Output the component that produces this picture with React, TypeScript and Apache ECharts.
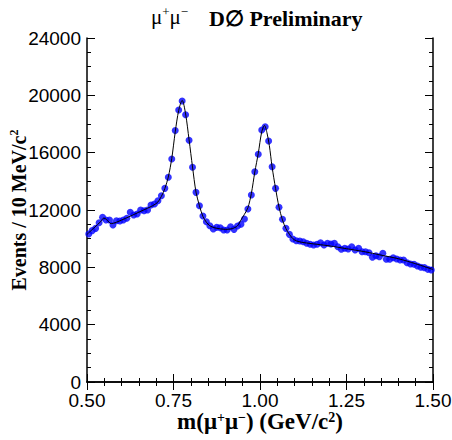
import React, { useEffect, useRef } from "react";
import * as echarts from "echarts";

// Histogram: m(mu+mu-) in 10 MeV bins from 0.50 to 1.50 GeV
const binStart = 0.5;
const binWidth = 0.01;
const eventCounts = [
  10330, 10560, 10720, 11110, 11490, 11300, 11300, 10950, 11250, 11230,
  11300, 11420, 11840, 11650, 11720, 12000, 11950, 12000, 12350, 12420,
  12650, 13000, 13510, 14280, 15560, 17540, 18980, 19600, 18650, 16860,
  14980, 13230, 12300, 11580, 11180, 10900, 10670, 10790, 10760, 10600,
  10600, 10830, 10650, 10880, 11000, 11370, 12070, 13050, 14670, 15890,
  17580, 17810, 16810, 15020, 13510, 12190, 11350, 10720, 10300, 9980,
  9860, 9840, 9790, 9680, 9610, 9560, 9610, 9720, 9560, 9680,
  9630, 9680, 9440, 9260, 9330, 9280, 9440, 9210, 9330, 9090,
  9090, 9020, 8700, 8810, 8740, 8980, 8560, 8560, 8670, 8580,
  8510, 8510, 8320, 8230, 8210, 8090, 8000, 7980, 7860, 7810,
];

// Fit curve
const fitMass = [
  0.5, 0.52, 0.54, 0.548, 0.556, 0.57, 0.6, 0.65, 0.7, 0.715,
  0.725, 0.735, 0.745, 0.755, 0.765, 0.775, 0.785, 0.795, 0.805, 0.815,
  0.825, 0.835, 0.845, 0.855, 0.87, 0.9, 0.92, 0.935, 0.945, 0.955,
  0.965, 0.975, 0.985, 0.995, 1.005, 1.013, 1.02, 1.027, 1.035, 1.045,
  1.055, 1.065, 1.075, 1.085, 1.095, 1.105, 1.12, 1.15, 1.2, 1.25,
  1.3, 1.35, 1.4, 1.45, 1.5,
];
const fitEvents = [
  10300, 10750, 11200, 11430, 11350, 11050, 11300, 11850, 12450, 12950,
  13500, 14300, 15600, 17450, 18950, 19650, 18700, 16900, 15000, 13250,
  12300, 11550, 11150, 10900, 10750, 10650, 10700, 10900, 11300, 11700,
  12150, 13150, 14650, 15950, 17450, 17900, 17400, 16500, 15000, 13500,
  12200, 11300, 10700, 10300, 10000, 9850, 9750, 9650, 9500, 9300,
  9100, 8850, 8600, 8250, 7850,
];

const xTicks = { min: 0.5, max: 1.5, interval: 0.25 };
const yTicks = { min: 0, max: 24000, interval: 4000 };

export default function App() {
  const ref = useRef<HTMLDivElement>(null);
  useEffect(() => {
    if (!ref.current) return;
    const chart = echarts.init(ref.current, undefined, { renderer: "svg" });
    const pts = eventCounts.map((v, i) => [binStart + binWidth * (i + 0.5), v]);
    const fit = fitMass.map((m, i) => [m, fitEvents[i]]);
    const labelFont = "'Liberation Sans', Arial, sans-serif";
    const serif = "'Liberation Serif', 'Times New Roman', serif";
    const axisLine = { show: true, lineStyle: { color: "#000", width: 1.5 } };
    const tick = { show: true, inside: true, length: 8, lineStyle: { color: "#000", width: 1 } };
    const minor = (n: number) => ({
      show: true,
      splitNumber: n,
      length: 4,
      lineStyle: { color: "#000", width: 1 },
    });
    const option: any = {
      animation: false,
      grid: { left: 87, right: 19, top: 38, bottom: 58, containLabel: false, outerBoundsMode: "none" },
      graphic: [
        {
          type: "text",
          left: 151,
          top: 5,
          style: {
            text: "{a|μ}{s|+}{a|μ}{s|−}",
            rich: {
              a: { fontFamily: serif, fontSize: 21, fill: "#000", lineHeight: 24 },
              s: { fontFamily: serif, fontSize: 13, fill: "#000", lineHeight: 12, verticalAlign: "top" },
            },
          },
        },
        {
          type: "text",
          left: 209,
          top: 7,
          style: {
            text: "D∅ Preliminary",
            fontFamily: serif,
            fontWeight: "bold",
            fontSize: 22,
            fill: "#000",
          },
        },
      ],
      xAxis: [
        {
          type: "value",
          ...xTicks,
          position: "bottom",
          axisLine,
          axisTick: tick,
          minorTick: minor(5),
          splitLine: { show: false },
          axisLabel: {
            formatter: (v: number) => v.toFixed(2),
            fontSize: 19,
            lineHeight: 18,
            color: "#000",
            fontFamily: labelFont,
            margin: 9,
          },
          name: "{a|m(μ}{s|+}{a|μ}{s|−}{a|) (GeV/c}{s|2}{a|)}",
          nameLocation: "middle",
          nameGap: 28,
          nameMoveOverlap: false,
          nameTextStyle: {
            rich: {
              a: { fontFamily: serif, fontWeight: "bold", fontSize: 23, color: "#000", lineHeight: 22 },
              s: { fontFamily: serif, fontWeight: "bold", fontSize: 14, color: "#000", lineHeight: 12, verticalAlign: "top" },
            },
          },
        },
        {
          type: "value",
          ...xTicks,
          position: "top",
          axisLine,
          axisTick: tick,
          minorTick: minor(5),
          splitLine: { show: false },
          axisLabel: { show: false },
        },
      ],
      yAxis: [
        {
          type: "value",
          ...yTicks,
          position: "left",
          axisLine,
          axisTick: tick,
          minorTick: minor(4),
          splitLine: { show: false },
          axisLabel: {
            formatter: (v: number) => String(v),
            fontSize: 19,
            color: "#000",
            fontFamily: labelFont,
            margin: 6,
          },
          name: "{a|Events / 10 MeV/c}{s|2}",
          nameLocation: "middle",
          nameRotate: 90,
          nameGap: 57,
          nameMoveOverlap: false,
          nameTextStyle: {
            rich: {
              a: { fontFamily: serif, fontWeight: "bold", fontSize: 20, color: "#000", lineHeight: 22 },
              s: { fontFamily: serif, fontWeight: "bold", fontSize: 12, color: "#000", lineHeight: 11, verticalAlign: "top" },
            },
          },
        },
        {
          type: "value",
          ...yTicks,
          position: "right",
          axisLine,
          axisTick: tick,
          minorTick: minor(4),
          splitLine: { show: false },
          axisLabel: { show: false },
        },
      ],
      series: [
        {
          type: "scatter",
          data: pts,
          symbol: "circle",
          symbolSize: 7,
          itemStyle: { color: "#0000ff" },
          xAxisIndex: 0,
          yAxisIndex: 0,
        },
        {
          type: "line",
          data: fit,
          smooth: 0.3,
          symbol: "none",
          lineStyle: { color: "#000", width: 1 },
          xAxisIndex: 0,
          yAxisIndex: 0,
          z: 3,
        },
      ],
    };
    chart.setOption(option);
    return () => chart.dispose();
  }, []);
  return (
    <div
      ref={ref}
      style={{ position: "fixed", left: 0, top: 0, width: 452, height: 440, background: "#fff" }}
    />
  );
}
